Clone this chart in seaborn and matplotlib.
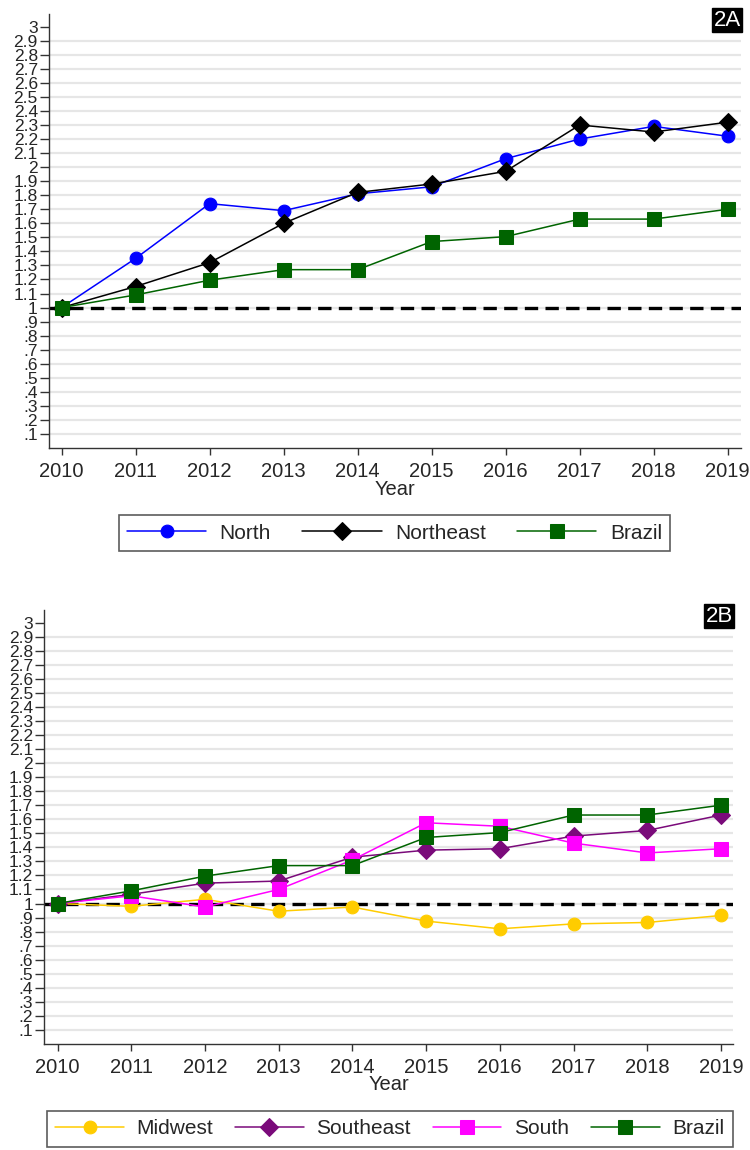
import matplotlib
matplotlib.use("Agg")
import matplotlib.pyplot as plt
import seaborn as sns

# index values (2010 = 1)
years = [2010, 2011, 2012, 2013, 2014, 2015, 2016, 2017, 2018, 2019]
north = [1.00, 1.35, 1.74, 1.69, 1.81, 1.86, 2.06, 2.20, 2.29, 2.22]
northeast = [1.00, 1.15, 1.32, 1.60, 1.82, 1.88, 1.97, 2.30, 2.25, 2.32]
midwest = [1.00, 0.98, 1.03, 0.945, 0.975, 0.875, 0.82, 0.855, 0.865, 0.915]
southeast = [1.00, 1.065, 1.145, 1.16, 1.33, 1.38, 1.39, 1.48, 1.52, 1.63]
south = [1.00, 1.055, 0.975, 1.10, 1.31, 1.575, 1.55, 1.43, 1.36, 1.39]
brazil = [1.00, 1.09, 1.195, 1.27, 1.27, 1.47, 1.505, 1.63, 1.63, 1.70]

ytick_labels = ['.1', '.2', '.3', '.4', '.5', '.6', '.7', '.8', '.9', '1',
                '1.1', '1.2', '1.3', '1.4', '1.5', '1.6', '1.7', '1.8', '1.9', '2',
                '2.1', '2.2', '2.3', '2.4', '2.5', '2.6', '2.7', '2.8', '2.9', '3']
yticks = [float(s) for s in ytick_labels]

sns.set_style("white")
plt.rcParams['font.family'] = ['Liberation Sans', 'DejaVu Sans']

fig = plt.figure(figsize=(7.5, 11.5), dpi=100)
ax_a = fig.add_axes([0.0653, 0.6104, 0.9227, 0.3774])
ax_b = fig.add_axes([0.059, 0.0922, 0.918, 0.3774])

panel_a = [
    ("North", north, "#0000ff", "o", 9.2),
    ("Northeast", northeast, "#000000", "D", 9.0),
    ("Brazil", brazil, "#006400", "s", 9.4),
]
panel_b = [
    ("Midwest", midwest, "#ffcc00", "o", 9.2),
    ("Southeast", southeast, "#7a0a7a", "D", 9.0),
    ("South", south, "#ff00ff", "s", 9.4),
    ("Brazil", brazil, "#006400", "s", 9.4),
]


def draw_panel(ax, series, badge, xlim):
    for name, vals, color, marker, ms in series:
        sns.lineplot(x=years, y=vals, ax=ax, color=color, marker=marker,
                     markersize=ms, markeredgecolor=color, linewidth=1.1,
                     label=name, legend=False, zorder=3)
    handles = ax.get_lines()[:len(series)]
    ax.axhline(1, color="black", lw=2.4, ls=(0, (4, 2.2)), zorder=2)

    ax.set_ylim(0, 3.09)
    ax.set_xlim(*xlim)
    ax.set_yticks(yticks)
    ax.set_yticklabels(ytick_labels)
    ax.set_xticks(years)
    ax.set_xticklabels([str(y) for y in years])
    ax.yaxis.grid(True, color="#e6e6e6", lw=1.6)
    ax.get_ygridlines()[-1].set_visible(False)
    ax.set_axisbelow(True)
    sns.despine(ax=ax)
    for side in ["left", "bottom"]:
        ax.spines[side].set_color("#333333")
        ax.spines[side].set_linewidth(1.0)
    ax.tick_params(axis="both", direction="out", width=1,
                   color="#333333", left=True, bottom=True)
    ax.tick_params(axis="x", labelsize=14.5, pad=5, length=5)
    ax.tick_params(axis="y", labelsize=12.5, pad=1.5, length=6.5)
    ax.set_xlabel("Year", fontsize=14.5, labelpad=-1)
    ax.set_ylabel("")
    ax.text(1.0, 1.01, badge, transform=ax.transAxes, ha="right", va="top",
            color="white", fontsize=16,
            bbox=dict(facecolor="black", edgecolor="black", pad=1.0))
    return handles


h_a = draw_panel(ax_a, panel_a, "2A", (2009.83, 2019.18))
h_b = draw_panel(ax_b, panel_b, "2B", (2009.82, 2019.16))

leg_a = fig.legend(h_a, [s[0] for s in panel_a], loc="center",
                   bbox_to_anchor=(0.526, 0.5365), ncol=3, frameon=True,
                   fancybox=False, edgecolor="#333333", fontsize=15,
                   handlelength=3.8, handletextpad=0.65, columnspacing=1.5,
                   borderpad=0.4)
leg_a.get_frame().set_linewidth(1.2)

leg_b = fig.legend(h_b, [s[0] for s in panel_b], loc="center",
                   bbox_to_anchor=(0.5196, 0.0183), ncol=4, frameon=True,
                   fancybox=False, edgecolor="#333333", fontsize=15,
                   handlelength=3.3, handletextpad=0.6, columnspacing=1.05,
                   borderpad=0.4)
leg_b.get_frame().set_linewidth(1.2)

fig.savefig("out.png", dpi=100)
